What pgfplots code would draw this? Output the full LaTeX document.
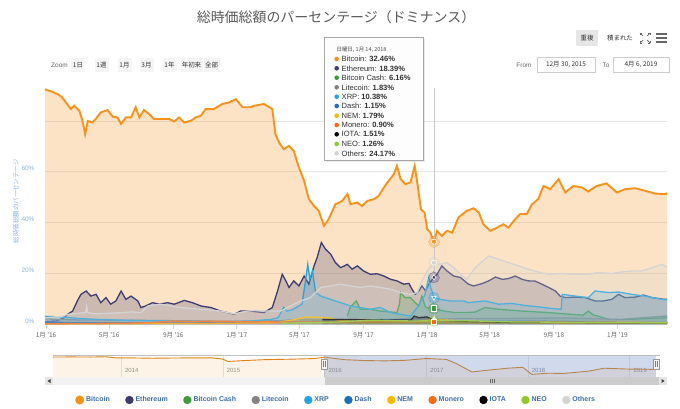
\documentclass[border=0pt]{standalone}
\usepackage{pgfplots}
\pgfplotsset{compat=1.18}
\usepackage{pgfplotstable}
\usepackage{fontspec}
\setmainfont{Liberation Sans}
\newfontfamily\jp{Noto Sans CJK JP}

\definecolor{btc}{HTML}{F7931A}
\definecolor{eth}{HTML}{3D3D73}
\definecolor{bch}{HTML}{3F9B3F}
\definecolor{ltc}{HTML}{838383}
\definecolor{xrp}{HTML}{25A4DE}
\definecolor{dashc}{HTML}{1C6FB8}
\definecolor{nem}{HTML}{FBBA00}
\definecolor{xmr}{HTML}{FF6A13}
\definecolor{iota}{HTML}{000000}
\definecolor{neo}{HTML}{8DCB2C}
\definecolor{oth}{HTML}{D4D4D4}
\definecolor{axisblue}{HTML}{CCD6EB}
\definecolor{ylab}{HTML}{8CB4E2}
\definecolor{gridc}{HTML}{E6E6E6}
\definecolor{legtext}{HTML}{3C6EAA}
\definecolor{labgray}{HTML}{666666}
\definecolor{titlec}{HTML}{5A5A5A}
\definecolor{maskc}{RGB}{102,133,194}

\pgfplotstableread{
x y
-2 92.5
2 92.2
12 91.5
22 90.6
30 89.5
38 87.3
48 84.7
54 86
64 84
70 80
75 74.8
80 80
89 79.4
96 81
105 83.4
118 84.3
128 81.7
137 81.4
144 78.8
153 81.4
163 81.4
172 85.4
179 81.4
188 84.3
198 82.7
207 80.8
220 80.8
236 80.8
246 79.8
255 81.4
265 79.4
278 80.1
287 81.4
297 82.1
306 84.7
322 84.7
338 86.7
351 87.3
364 88.6
377 85.4
392 85.4
399 86
418 86.7
434 84.7
440 74.8
447 71.5
456 68.9
466 70.2
475 68.2
485 61.7
495 56.4
504 49.2
514 46.5
523 44.6
533 38.7
542 41.3
555 47.2
568 48.5
578 51.2
584 47.2
597 47.9
606 46.5
616 48.5
629 49.2
638 50.5
648 53.8
657 56.4
667 59
673 62.3
680 57.1
689 55.1
699 55.8
707 62.3
712 55.8
719 45.2
726 43.9
731 37.4
737 36
744 32.46
750 36.7
759 34.7
769 36.7
779 36
791 42
807 44.6
820 45.6
830 43.9
839 39.3
852 36.7
865 38
877 39.3
887 38
897 40.6
909 43.3
922 43.3
932 47.2
944 49.2
954 54.4
967 53.1
983 57.1
996 51.8
1011 54.4
1028 53.8
1040 52.2
1056 54.4
1075 55.4
1095 51.8
1110 53.1
1130 53.5
1149 52.5
1168 51.4
1187 51.2
1191 51.5
}\tbtc

\pgfplotstableread{
x y
-2 1.0
20 1.2
35 2.5
41 3.8
51 5.1
60 9.1
67 11.7
77 13
86 11
96 11.7
105 8.4
115 10.4
124 7.8
134 9.1
144 13
153 9.7
163 11
176 9.1
182 6.5
191 7.1
204 8.4
217 7.8
233 8.4
246 7.8
265 9.3
281 8.4
297 7.1
316 6.5
335 5.1
348 4.5
361 3.8
373 5.1
392 5.1
418 4.5
434 6.5
444 13
453 19.6
460 17
466 14.4
475 17
485 15
495 18.9
504 15.7
514 22.9
520 26.2
528 32.1
536 29.5
546 27.5
555 24.2
565 22.2
578 23.5
587 21.6
597 22.9
609 20.9
622 19.6
635 19.8
648 18.9
661 17.6
673 17
686 15.7
696 16
702 13.7
708 11.7
715 13
721 15
728 13
734 15.7
744 18.39
750 19.6
759 22.9
769 20.9
782 18.9
795 18.3
810 15.7
820 15
836 15.9
849 17
862 18.5
875 17.6
887 17.9
900 18.9
913 17.6
925 17
938 16.9
951 15.7
964 14.4
977 13
986 11
996 10.4
1011 10.6
1034 10.4
1053 9.1
1069 9.1
1085 9.7
1098 11.7
1110 10.4
1130 10.6
1146 11.4
1162 10.4
1187 9.7
1191 9.8
}\teth

\pgfplotstableread{
x y
578 3.1
583 6.5
595 9.1
603 5.8
622 5.8
641 5.1
673 4.5
678 8
680 12.4
688 10.4
699 10.4
708 8.4
715 7.1
721 11
728 6.5
744 6.16
763 5.1
785 4.5
801 4.5
823 4.7
842 6.5
868 5.8
913 5.1
964 4.5
1008 3.8
1030 3.5
1040 5.1
1050 3.5
1059 3.1
1079 1.8
1117 1.8
1160 2.2
1191 2.5
}\tbch

\pgfplotstableread{
x y
-2 2.0
60 1.6
150 1.5
250 1.3
366 1.0
450 1.3
480 1.8
550 1.9
640 1.5
700 2.3
744 1.83
800 2.2
900 2.2
1000 2.4
1100 1.8
1191 3.2
}\tltc

\pgfplotstableread{
x y
-2 3.0
30 2.8
60 2.2
100 1.8
150 1.5
200 1.3
250 1.2
300 1.0
350 1.0
392 1.2
431 1.8
445 2.5
456 6.5
462 5.1
472 5.6
491 7.8
498 17.6
502 23.5
506 17.6
511 20.9
517 12.4
527 11
546 9.7
565 8.4
584 7.1
603 6.5
622 5.8
641 6.5
661 4.5
680 3.8
699 3.1
712 6.5
721 9.7
726 11
734 18.3
737 15
744 10.38
756 9.7
775 9.1
801 9.1
810 8.4
842 9.1
868 7.8
893 8.1
919 7.3
944 6.8
970 6.1
988 5.8
990 11.7
1015 11
1040 10.4
1053 13
1079 12.4
1098 12.6
1123 11.7
1149 11
1181 9.7
1191 9.5
}\txrp

\pgfplotstableread{
x y
-2 0.7
100 0.5
250 0.4
366 0.5
430 0.8
480 1.0
600 1.5
650 1.8
744 1.15
850 1.1
1000 1.0
1100 0.5
1191 0.6
}\tdash

\pgfplotstableread{
x y
-2 0.1
300 0.2
440 0.5
470 1.5
500 2.8
525 2.6
540 2.5
560 1.5
600 1.0
700 0.8
744 1.79
800 1.2
900 0.6
1000 0.4
1191 0.4
}\tnem

\pgfplotstableread{
x y
-2 0.1
150 0.3
200 0.5
240 1.2
280 1.0
320 1.1
366 1.0
450 0.8
550 0.8
700 0.8
744 0.9
900 0.8
1191 0.6
}\txmr

\pgfplotstableread{
x y
530 1.8
580 1.8
650 1.5
700 1.6
706 3.1
715 2.5
730 2.8
744 1.51
800 1.0
900 0.6
1191 0.5
}\tiota

\pgfplotstableread{
x y
450 0.3
560 0.8
620 1.5
700 1.2
744 1.26
800 1.3
900 0.8
1191 0.5
}\tneo

\pgfplotstableread{
x y
-2 2.5
30 3
41 3.8
76 4.5
78 7.0
80 4.5
92 4.0
150 4.5
163 4.8
182 4.5
195 7.1
220 7.8
258 6.5
297 5.8
335 5.1
361 4.0
386 5.1
399 5.3
430 5.1
450 5.1
469 7.1
488 9.1
507 10.4
527 14.4
546 15
565 15.7
584 15
603 14.4
622 15
641 14.4
661 13.7
680 12.4
699 11.7
712 12.4
721 17
731 20.9
744 24.17
756 23.5
769 24.2
782 22.2
795 19.6
807 17.6
823 22.2
849 26.8
868 25.5
887 24.2
906 22.9
925 21.6
944 20.5
964 19.6
989 19.9
1015 19.6
1040 19.6
1059 20.3
1085 19.9
1104 20.5
1123 20.9
1142 20.9
1162 22.2
1181 23.5
1191 22.5
}\toth

\pgfplotstableread{
x y
2013.33 93
2013.5 93.5
2013.7 93
2013.85 94
2013.95 90
2014.05 90.5
2014.3 89
2014.6 90
2014.9 90
2015.0 86
2015.05 78
2015.15 80
2015.4 84
2015.7 86
2015.9 88
2016.0 92.5
2016.2 84
2016.4 81
2016.6 80
2016.8 82
2017.0 88
2017.2 85
2017.3 70
2017.45 42
2017.6 48
2017.8 55
2017.95 58
2018.04 34
2018.2 38
2018.35 37
2018.6 45
2018.75 55
2018.9 53
2019.0 52
2019.26 51
}\tnav

\pgfplotsset{
  fillarea/.style={draw=none, fill=#1, fill opacity=0.25, forget plot},
  halo/.style={only marks, mark=*, mark size=5.5bp, mark options={draw=#1, fill=#1, opacity=0.25, line width=0pt}, forget plot},
  hov/.style={only marks, mark size=2.6bp, mark options={fill=#1, draw=white, line width=0.6bp}, forget plot},
  hovdown/.style={only marks, mark size=2.6bp, mark=triangle*, mark options={fill=#1, draw=white, line width=0.6bp, rotate=180}, forget plot},
  serline/.style={draw=#1, line width=1.3bp, legend image code/.code={\fill[#1] (0bp,0bp) circle (3.5bp);}},
}

\begin{document}
\begin{tikzpicture}[x=1bp,y=1bp]
\path[use as bounding box, fill=white] (0,0) rectangle (680,408);

% title
\node[font=\jp\fontsize{14}{16}\selectfont, text=titlec] at (336,391) {総時価総額のパーセンテージ（ドミナンス）};

% top-right buttons
\fill[gridc] (576,362) rectangle (598,378);
\node[font=\jp\fontsize{6.5}{7}\selectfont, text=black!80] at (587,370) {重複};
\node[font=\jp\fontsize{6.5}{7}\selectfont, text=black!80] at (620,370) {積まれた};
\begin{scope}[draw=labgray, line width=0.7bp]
\draw (640,365) -- (643,368); \draw (640,365) -- (642,365); \draw (640,365) -- (640,367);
\draw (650,365) -- (647,368); \draw (650,365) -- (648,365); \draw (650,365) -- (650,367);
\draw (640,375) -- (643,372); \draw (640,375) -- (642,375); \draw (640,375) -- (640,373);
\draw (650,375) -- (647,372); \draw (650,375) -- (648,375); \draw (650,375) -- (650,373);
\end{scope}
\draw[labgray, line width=1.4bp] (656,366) -- (667,366) (656,370) -- (667,370) (656,374) -- (667,374);

% zoom buttons
\node[font=\fontsize{6.5}{7}\selectfont, text=labgray] at (59.5,343) {Zoom};
\foreach \cx/\w/\t in {78/14/1日, 101.5/14/1週, 124.5/14/1月, 146.5/14/3月, 169.5/14/1年, 191.5/22/年初来, 211.7/16/全部}{
  \fill[black!4] (\cx-\w/2,336) rectangle (\cx+\w/2,350);
  \node[font=\jp\fontsize{6.5}{7}\selectfont, text=black!80] at (\cx,343) {\t};
}
\node[font=\fontsize{6.5}{7}\selectfont, text=labgray] at (524,343) {From};
\draw[black!20, fill=white] (537,335.5) rectangle (595,350.5);
\node[font=\jp\fontsize{6.5}{7}\selectfont, text=black!80] at (566,343) {12月 30, 2015};
\node[font=\fontsize{6.5}{7}\selectfont, text=labgray] at (606,343) {To};
\draw[black!20, fill=white] (613,335.5) rectangle (669,350.5);
\node[font=\jp\fontsize{6.5}{7}\selectfont, text=black!80] at (641,343) {4月 6, 2019};

\begin{axis}[
  at={(45bp,84bp)}, anchor=south west,
  width=622bp, height=236bp, scale only axis,
  xmin=-2, xmax=1191, ymin=0, ymax=93,
  clip=false,
  axis x line*=bottom, axis y line*=left,
  x axis line style={draw=axisblue, line width=0.8bp, -},
  y axis line style={draw=none, -},
  xtick={0,121,244,366,486,609,731,851,974,1096},
  xticklabels={1月 '16,5月 '16,9月 '16,1月 '17,5月 '17,9月 '17,1月 '18,5月 '18,9月 '18,1月 '19},
  xticklabel style={font=\jp\fontsize{6.5}{7}\selectfont, text=labgray},
  x tick style={draw=axisblue, line width=0.8bp},
  major tick length=5bp, tick align=outside,
  ytick={0,20,40,60,80}, yticklabels={0\%,20\%,40\%,60\%,{}},
  y tick style={draw=none},
  yticklabel style={font=\fontsize{6.5}{7}\selectfont, text=ylab, yshift=3bp, xshift=-2bp},
  ymajorgrids, grid style={draw=gridc, line width=0.6bp},
  ylabel={総時価総額のパーセンテージ},
  ylabel style={font=\jp\fontsize{6.5}{7}\selectfont, text=ylab, at={(axis description cs:-0.0466,0.52)}, anchor=center},
  legend columns=-1,
  legend style={at={(axis description cs:0.468,-0.322)}, anchor=center, draw=none, fill=none,
    font=\bfseries\fontsize{7}{8}\selectfont, text=legtext,
    /tikz/every even column/.append style={column sep=13.5bp}},
  legend cell align=left,
]
\addplot[fillarea=btc] table {\tbtc} \closedcycle;
\addplot[serline=btc, line width=1.9bp] table {\tbtc};
\addlegendentry{Bitcoin}
\addplot[fillarea=eth] table {\teth} \closedcycle;
\addplot[serline=eth] table {\teth};
\addlegendentry{Ethereum}
\addplot[fillarea=bch] table {\tbch} \closedcycle;
\addplot[serline=bch] table {\tbch};
\addlegendentry{Bitcoin Cash}
\addplot[fillarea=ltc] table {\tltc} \closedcycle;
\addplot[serline=ltc] table {\tltc};
\addlegendentry{Litecoin}
\addplot[fillarea=xrp] table {\txrp} \closedcycle;
\addplot[serline=xrp] table {\txrp};
\addlegendentry{XRP}
\addplot[fillarea=dashc] table {\tdash} \closedcycle;
\addplot[serline=dashc] table {\tdash};
\addlegendentry{Dash}
\addplot[fillarea=nem] table {\tnem} \closedcycle;
\addplot[serline=nem] table {\tnem};
\addlegendentry{NEM}
\addplot[fillarea=xmr] table {\txmr} \closedcycle;
\addplot[serline=xmr] table {\txmr};
\addlegendentry{Monero}
\addplot[fillarea=iota] table {\tiota} \closedcycle;
\addplot[serline=iota] table {\tiota};
\addlegendentry{IOTA}
\addplot[fillarea=neo] table {\tneo} \closedcycle;
\addplot[serline=neo] table {\tneo};
\addlegendentry{NEO}
\addplot[fillarea=oth] table {\toth} \closedcycle;
\addplot[serline=oth] table {\toth};
\addlegendentry{Others}

% crosshair
\draw[black!22, line width=0.6bp] (axis cs:744,0) -- (axis cs:744,93);
% hover halos and markers
\addplot[halo=btc] coordinates {(744,32.46)};
\addplot[halo=oth] coordinates {(744,24.17)};
\addplot[halo=eth] coordinates {(744,18.39)};
\addplot[halo=xrp] coordinates {(744,10.38)};
\addplot[halo=bch] coordinates {(744,6.16)};
\addplot[halo=neo] coordinates {(744,1.26)};
\addplot[hov=btc, mark=*] coordinates {(744,32.46)};
\addplot[hov=oth, mark=*] coordinates {(744,24.17)};
\addplot[hov=eth, mark=diamond*] coordinates {(744,18.39)};
\addplot[hovdown=xrp] coordinates {(744,10.38)};
\addplot[hov=bch, mark=square*] coordinates {(744,6.16)};
\addplot[hov=ltc, mark=triangle*] coordinates {(744,1.83)};
\addplot[hov=nem, mark=diamond*] coordinates {(744,1.79)};
\addplot[hov=iota, mark=triangle*] coordinates {(744,1.51)};
\addplot[hovdown=neo] coordinates {(744,1.26)};
\addplot[hov=dashc, mark=*] coordinates {(744,1.15)};
\addplot[hov=xmr, mark=square*] coordinates {(744,0.90)};
\end{axis}

% tooltip
\fill[black, opacity=0.08] (325.5,246.5) rectangle (425,369.5);
\draw[black!35, fill=white, fill opacity=0.92, line width=0.5bp] (324,248) rectangle (423,371);
\node[anchor=west, font=\jp\fontsize{5.5}{6}\selectfont, text=black!70] at (333,358.5) {日曜日, 1月 14, 2018};
\foreach \yy/\c/\n/\v in {349/btc/Bitcoin/32.46, 339.7/eth/Ethereum/18.39, 330.3/bch/Bitcoin Cash/6.16,
  320.7/ltc/Litecoin/1.83, 311.3/xrp/XRP/10.38, 302/dashc/Dash/1.15, 292.3/nem/NEM/1.79,
  283/xmr/Monero/0.90, 273.7/iota/IOTA/1.51, 264/neo/NEO/1.26, 254.7/oth/Others/24.17}{
  \fill[\c] (336.7,\yy) circle (2.3bp);
  \node[anchor=west, font=\fontsize{7.6}{8}\selectfont, text=black!80, inner sep=0pt] at (341.5,\yy) {\n: \textbf{\v\%}};
}

% navigator
\begin{axis}[
  at={(53bp,31bp)}, anchor=south west,
  width=607bp, height=22bp, scale only axis,
  xmin=2013.33, xmax=2019.30, ymin=25, ymax=100,
  axis line style={draw=none},
  ytick=\empty,
  xtick={2014,2015,2016,2017,2018,2019},
  xticklabels={2014,2015,2016,2017,2018,2019},
  xmajorgrids, grid style={draw=gridc, line width=0.6bp},
  x tick style={draw=none},
  xticklabel style={anchor=south west, font=\fontsize{6}{7}\selectfont, text=black!45, xshift=0.5bp, yshift=1bp},
  clip=false,
]
\addplot[draw=none, fill=btc, fill opacity=0.1, forget plot] table {\tnav} \closedcycle;
\addplot[btc!90!black, line width=0.9bp] table {\tnav};
\fill[maskc, fill opacity=0.3] (axis cs:2016.0,25) rectangle (axis cs:2019.26,100);
\draw[black!25, line width=0.5bp] (axis cs:2013.33,100) -- (axis cs:2019.3,100);
\draw[black!40, fill=black!5] ([xshift=-3bp]axis cs:2016.0,50) rectangle ([xshift=3bp]axis cs:2016.0,85);
\draw[black!40, fill=black!5] ([xshift=-3bp]axis cs:2019.26,50) rectangle ([xshift=3bp]axis cs:2019.26,85);
\draw[black!50, line width=0.4bp] ([xshift=-1bp]axis cs:2016.0,58) -- ([xshift=-1bp]axis cs:2016.0,78) ([xshift=1bp]axis cs:2016.0,58) -- ([xshift=1bp]axis cs:2016.0,78);
\draw[black!50, line width=0.4bp] ([xshift=-1bp]axis cs:2019.26,58) -- ([xshift=-1bp]axis cs:2019.26,78) ([xshift=1bp]axis cs:2019.26,58) -- ([xshift=1bp]axis cs:2019.26,78);
\end{axis}

% scrollbar
\fill[black!5] (45,23) rectangle (667,31);
\fill[black!20] (325,23) rectangle (659,31);
\fill[black!10] (45,23) rectangle (53,31);
\fill[black!10] (659,23) rectangle (667,31);
\fill[black!75] (50.5,25) -- (47.5,27) -- (50.5,29) -- cycle;
\fill[black!75] (661.5,25) -- (664.5,27) -- (661.5,29) -- cycle;
\draw[black!60, line width=0.4bp] (490,25) -- (490,29) (492,25) -- (492,29) (494,25) -- (494,29);
\end{tikzpicture}
\end{document}
